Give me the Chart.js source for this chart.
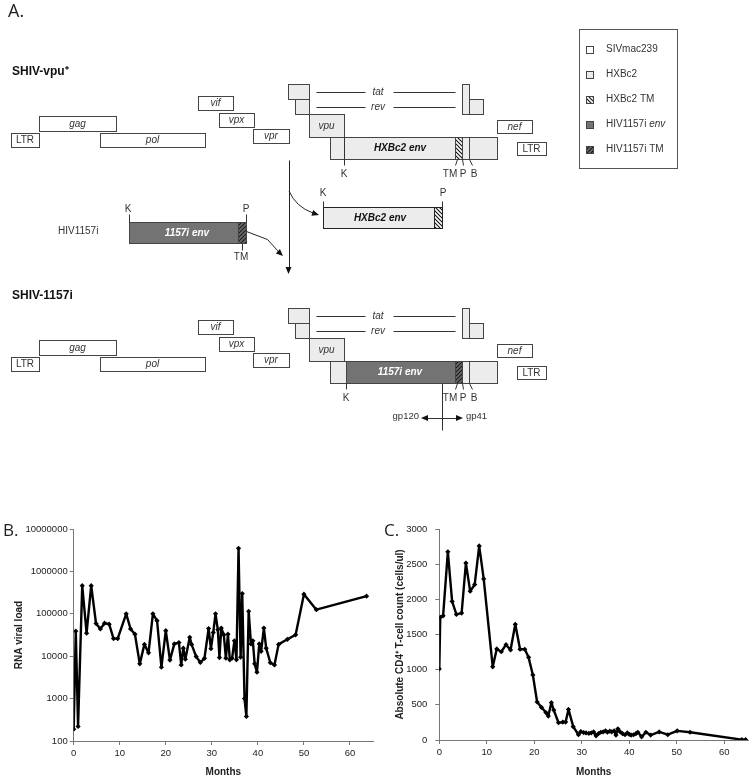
<!DOCTYPE html>
<html>
<head>
<meta charset="utf-8">
<script src="https://cdn.jsdelivr.net/npm/chart.js@4.4.1/dist/chart.umd.min.js"></script>
<style>
html,body{margin:0;padding:0;background:#fff;width:754px;height:781px;overflow:hidden}
canvas{position:absolute;display:block}
#diagram{left:0;top:0}
#viral{left:0;top:450px}
#cd4{left:377px;top:450px}
</style>
</head>
<body>
<canvas id="diagram" width="754" height="450"></canvas>
<canvas id="viral" width="377" height="331"></canvas>
<canvas id="cd4" width="377" height="331"></canvas>
<script>
const F = '"Liberation Sans", Arial, sans-serif';
Chart.defaults.font.family = F;

// ---- B. plasma viral load (copies/ml) by month
const vlMonths = [0,0.45,0.95,1.85,2.8,3.8,4.85,5.8,6.7,7.7,8.65,9.55,11.4,12.35,13.3,14.35,15.35,16.25,17.2,18.1,
  19.05,20.0,20.9,21.85,22.85,23.35,23.8,24.25,25.2,25.6,26.6,27.5,28.4,29.3,29.8,30.3,30.8,31.3,31.65,32.05,
  32.6,33.05,33.5,33.9,34.4,34.9,35.35,35.8,36.25,36.6,37.1,37.5,38.0,38.5,38.9,39.3,39.8,40.3,40.7,41.3,
  41.8,42.7,43.6,44.5,46.4,48.2,50.0,52.7,63.6];
const vlCopies = [190,39000,220,460000,35000,460000,59000,44000,60000,57000,26000,26000,100000,44000,33000,6600,19000,12000,100000,69000,
  5500,40000,8100,19500,21000,6200,15500,8500,28000,19000,9800,7100,8900,45000,15000,36000,100000,42000,9300,46000,
  32000,9000,33000,8200,9000,23000,8300,3500000,9500,300000,1000,380,115000,19500,23000,6600,4200,19500,13000,46000,
  15500,7000,6200,19000,25000,32000,290000,125000,260000];

// ---- C. absolute CD4+ T-cell count by month
const cd4Months = [0,0.2,0.8,1.8,2.7,3.6,4.7,5.6,6.5,7.45,8.4,9.35,11.25,12.1,13.05,14.05,15.0,16.0,17.0,18.0,
  18.8,19.7,20.6,21.5,22.45,22.95,23.6,24.1,25.1,26.0,26.6,27.2,28.2,29.3,29.8,30.4,30.9,31.5,32.0,32.5,
  33.0,33.5,34.0,34.5,35.0,35.4,35.9,36.3,36.8,37.2,37.6,38.1,38.6,39.1,39.6,40.0,40.4,40.9,41.4,41.8,
  42.6,43.5,44.5,46.3,48.1,50.1,52.8,63.7,64.5];
const cd4Counts = [1010,1745,1765,2675,1970,1785,1805,2515,2115,2210,2760,2290,1040,1295,1255,1355,1280,1645,1290,1290,
  1175,925,540,465,390,340,530,425,245,255,255,435,190,75,120,105,100,95,100,115,
  60,90,110,115,130,110,125,115,130,70,160,115,90,75,100,80,70,75,90,110,
  45,110,70,115,75,130,110,5,5];

const monthTicks = [0,10,20,30,40,50,60];
const vlTicks = [100,1000,10000,100000,1000000,10000000];
const cd4Ticks = [0,500,1000,1500,2000,2500,3000];

// ---- A. genome map (map units along the genome, rows as top/bottom)
// backbone ORFs: [label, start, end, top, bottom, source]
const orfs = [
  ['LTR',11,39,133,147,'siv'],
  ['gag',39,116,116,131,'siv'],
  ['pol',100,205,133,147,'siv'],
  ['vif',198,233,96,110,'siv'],
  ['vpx',219,254,113,127,'siv'],
  ['vpr',253,289,129,143,'siv'],
  ['',288,309,84,99,'hxb'],
  ['',295,309,99,114,'hxb'],
  ['vpu',309,344,114,137,'hxb'],
  ['',462,469,84,114,'hxb'],
  ['',469,483,99,114,'hxb'],
  ['nef',497,532,120,133,'siv'],
  ['LTR',517,546,142,155,'siv']
];
const splices = [['tat',92],['rev',107]];
const envVpu = [[330,455,'hxb'],[455,462,'hxbTM'],[462,469,'hxb'],[469,497,'hxb']];
const env1157 = [[330,346,'hxb'],[346,455,'env1157'],[455,462,'tm1157'],[462,469,'hxb'],[469,497,'hxb']];
const envSites = [['TM',457,455,450],['P',462,463,463],['B',469,472,474]];
const constructs = [
  {title:'SHIV-vpu⁺', dy:0, env:envVpu, envLabel:'HXBc2 env', labelColor:'#111', k:344, kTop:137},
  {title:'SHIV-1157i', dy:224, env:env1157, envLabel:'1157i env', labelColor:'#fff', k:346, kTop:159}
];
const legendLabels = ['SIVmac239','HXBc2','HXBc2 TM','HIV1157i ','HIV1157i TM'];
const legendKinds = ['siv','hxb','hxbTM','env1157','tm1157'];

function hatch(ctx, bg, fg, dir){
  const c = document.createElement('canvas'); c.width = c.height = 4;
  const g = c.getContext('2d');
  g.fillStyle = bg; g.fillRect(0,0,4,4);
  g.strokeStyle = fg; g.lineWidth = 1.1; g.beginPath();
  if(dir>0){ g.moveTo(0,4);g.lineTo(4,0);g.moveTo(-1,1);g.lineTo(1,-1);g.moveTo(3,5);g.lineTo(5,3); }
  else { g.moveTo(0,0);g.lineTo(4,4);g.moveTo(3,-1);g.lineTo(5,1);g.moveTo(-1,3);g.lineTo(1,5); }
  g.stroke();
  return ctx.createPattern(c,'repeat');
}

const genomeMap = {
  id:'genomeMap',
  afterDraw(chart){
    const ctx = chart.ctx;
    const X = v => chart.scales.x.getPixelForValue(v);
    const Y = v => chart.scales.y.getPixelForValue(v);
    const P = v => Math.round(v)+0.5;
    const fills = {siv:'#fff', hxb:'#ececec', hxbTM:hatch(ctx,'#fff','#111',-1), env1157:'#737373', tm1157:hatch(ctx,'#6a6a6a','#1a1a1a',1)};
    ctx.save();
    ctx.lineWidth = 1; ctx.strokeStyle = '#444';
    const box = (x0,x1,y0,y1,kind) => {
      const a=P(X(x0)), b=P(X(x1)), c=P(Y(y0)), d=P(Y(y1));
      ctx.fillStyle = fills[kind]; ctx.fillRect(a,c,b-a,d-c); ctx.strokeRect(a,c,b-a,d-c);
    };
    const line = (pts,color) => {
      ctx.strokeStyle = color||'#333'; ctx.beginPath();
      pts.forEach((p,i) => i ? ctx.lineTo(P(X(p[0])),P(Y(p[1]))) : ctx.moveTo(P(X(p[0])),P(Y(p[1]))));
      ctx.stroke(); ctx.strokeStyle = '#444';
    };
    const text = (s,x,y,font,align,color) => {
      ctx.font = font; ctx.textAlign = align||'center'; ctx.textBaseline = 'middle';
      ctx.fillStyle = color||'#333'; ctx.fillText(s,X(x),Y(y));
    };
    const head = (x,y,ang) => {
      ctx.save(); ctx.translate(X(x),Y(y)); ctx.rotate(ang); ctx.fillStyle='#111';
      ctx.beginPath(); ctx.moveTo(0,0); ctx.lineTo(-7,-3); ctx.lineTo(-7,3); ctx.closePath(); ctx.fill(); ctx.restore();
    };

    text('A.',8,12,'18px "Open Sans", '+F,'left','#222');

    constructs.forEach(c => {
      const d = c.dy;
      text(c.title,12,72+d,'bold 12px '+F,'left','#111');
      orfs.forEach(o => {
        box(o[1],o[2],o[3]+d,o[4]+d,o[5]);
        if(o[0]) text(o[0],(o[1]+o[2])/2,(o[3]+o[4])/2+d+0.5,(o[0]==='LTR'?'':'italic ')+'10px '+F,'center','#333');
      });
      splices.forEach(s => {
        line([[316,s[1]+d],[365,s[1]+d]]); line([[393,s[1]+d],[455,s[1]+d]]);
        text(s[0],378,s[1]+d,'italic 10px '+F,'center','#333');
      });
      c.env.forEach(e => box(e[0],e[1],137+d,159+d,e[2]));
      text(c.envLabel,400,148.5+d,'italic bold 10px '+F,'center',c.labelColor);
      line([[c.k,c.kTop+d],[c.k,165+d]]);
      text('K',c.k,174+d,'10px '+F,'center','#333');
      envSites.forEach(s => {
        line([[s[1],159+d],[s[2],165+d]]);
        text(s[0],s[3],174+d,'10px '+F,'center','#333');
      });
    });

    // gp120 / gp41 cleavage
    line([[442,383],[442,430]]);
    line([[426,418],[458,418]]);
    head(463,418,0); head(421,418,Math.PI);
    text('gp120',419,416,'9.5px '+F,'right','#333');
    text('gp41',466,416,'9.5px '+F,'left','#333');

    // env swap: HXBc2 env excised, 1157i env inserted
    line([[288.5,160],[288.5,267]],'#222');
    head(288.5,274,Math.PI/2);
    ctx.strokeStyle='#222'; ctx.beginPath();
    ctx.moveTo(X(289),Y(191)); ctx.quadraticCurveTo(X(296),Y(207),X(313),Y(213)); ctx.stroke();
    head(319,215,0.3);
    box(323,434,207,228,'hxb'); box(434,442,207,228,'hxbTM');
    text('HXBc2 env',380,218,'italic bold 10px '+F,'center','#111');
    line([[323,201],[323,207]]); line([[442,201],[442,207]]);
    text('K',323,193,'10px '+F,'center','#333'); text('P',443,193,'10px '+F,'center','#333');

    text('HIV1157i',58,231,'10px '+F,'left','#333');
    box(129,238,222,243,'env1157'); box(238,246,222,243,'tm1157');
    text('1157i env',187,233,'italic bold 10px '+F,'center','#fff');
    line([[129,214],[129,222]]); line([[246,214],[246,222]]); line([[242,243],[242,250]]);
    text('K',128,209,'10px '+F,'center','#333'); text('P',246,209,'10px '+F,'center','#333');
    text('TM',241,257,'10px '+F,'center','#333');
    line([[246,231],[267,239],[277,250],[279,253]],'#222');
    head(283,256,0.75);

    // legend
    ctx.strokeStyle='#555';
    ctx.strokeRect(P(X(579)),P(Y(29)),Math.round(X(677)-X(579)),Math.round(Y(168)-Y(29)));
    ctx.strokeStyle='#444';
    legendLabels.forEach((l,i) => {
      const yy = 49+i*25;
      box(586,593,yy-3.5,yy+3.5,legendKinds[i]);
      text(l,606,yy,'10px '+F,'left','#333');
      if(legendKinds[i]==='env1157'){ ctx.font='10px '+F; text('env',606+ctx.measureText(l).width/(X(1)-X(0)),yy,'italic 10px '+F,'left','#333'); }
    });
    ctx.restore();
  }
};

new Chart(document.getElementById('diagram'), {
  type:'scatter',
  data:{datasets:[]},
  options:{
    responsive:false, animation:false,
    layout:{padding:0},
    plugins:{legend:{display:false},tooltip:{enabled:false}},
    scales:{
      x:{type:'linear',min:0,max:754,display:false},
      y:{type:'linear',min:0,max:450,reverse:true,display:false}
    }
  },
  plugins:[genomeMap]
});

const panelLabel = (txt,x,y) => ({
  id:'panel',
  afterDraw(chart){
    const ctx = chart.ctx; ctx.save();
    ctx.font = '17px "Open Sans", '+F; ctx.fillStyle = '#222';
    ctx.textAlign='left'; ctx.textBaseline='middle';
    ctx.fillText(txt,x,y); ctx.restore();
  }
});

function axisX(height){
  return {
    type:'linear', min:0, max:65,
    afterBuildTicks: s => { s.ticks = monthTicks.map(v => ({value:v})); },
    afterFit: s => { s.height = height; },
    grid:{drawOnChartArea:false, tickLength:4, color:'#777'},
    border:{color:'#777', width:1},
    ticks:{color:'#222', font:{size:9.5}, padding:3, maxRotation:0, callback: v => String(v)},
    title:{display:true, text:'Months', color:'#222', font:{size:10, weight:'bold'}, padding:{top:0,bottom:3}}
  };
}
const lineSet = (xs,ys) => ({
  data: xs.map((m,i) => ({x:m, y:ys[i]})),
  borderColor:'#000', backgroundColor:'#000', borderWidth:2.4,
  borderJoinStyle:'round', borderCapStyle:'round',
  pointStyle:'rectRot', pointRadius:2.6, pointBorderWidth:0, tension:0
});

new Chart(document.getElementById('viral'), {
  type:'line',
  data:{datasets:[lineSet(vlMonths,vlCopies)]},
  options:{
    responsive:false, animation:false,
    layout:{padding:{top:79,left:0,right:0,bottom:0}},
    plugins:{legend:{display:false},tooltip:{enabled:false}},
    scales:{
      x:axisX(40),
      y:{
        type:'logarithmic', min:100, max:10000000,
        afterBuildTicks: s => { s.ticks = vlTicks.map(v => ({value:v})); },
        afterFit: s => { s.width = 73.7; },
        grid:{drawOnChartArea:false, tickLength:4, color:'#777'},
        border:{color:'#777', width:1},
        ticks:{color:'#222', font:{size:9.5}, padding:2, callback: v => String(v)},
        title:{display:true, text:'RNA viral load', color:'#222', font:{size:10, weight:'bold'}, padding:{top:13,bottom:0}}
      }
    }
  },
  plugins:[panelLabel('B.',3,81)]
});

new Chart(document.getElementById('cd4'), {
  type:'line',
  data:{datasets:[lineSet(cd4Months,cd4Counts)]},
  options:{
    responsive:false, animation:false,
    layout:{padding:{top:79,left:0,right:6,bottom:0}},
    plugins:{legend:{display:false},tooltip:{enabled:false}},
    scales:{
      x:axisX(41),
      y:{
        type:'linear', min:0, max:3000,
        afterBuildTicks: s => { s.ticks = cd4Ticks.map(v => ({value:v})); },
        afterFit: s => { s.width = 62.3; },
        grid:{drawOnChartArea:false, tickLength:4, color:'#777'},
        border:{color:'#777', width:1},
        ticks:{color:'#222', font:{size:9.5}, padding:8, callback: v => String(v)},
        title:{display:true, text:'Absolute CD4⁺ T-cell count (cells/ul)', color:'#222', font:{size:10, weight:'bold'}, padding:{top:17.5,bottom:0}}
      }
    }
  },
  plugins:[panelLabel('C.',7,81)]
});
</script>
</body>
</html>
